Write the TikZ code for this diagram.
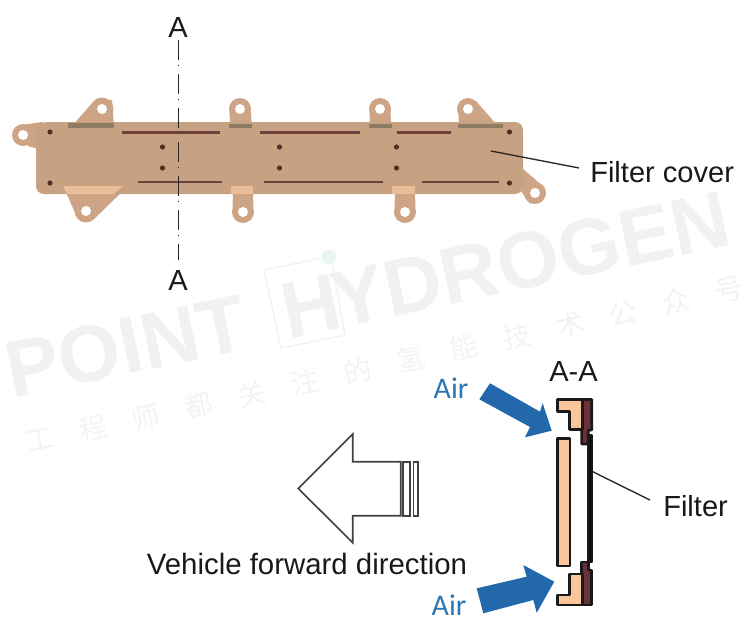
\documentclass[tikz,border=0pt]{standalone}
\usepackage{fontspec}
\setmainfont{Liberation Sans}
\newfontfamily\airfont{Carlito}
\newfontfamily\cjkfont{Noto Sans CJK SC}
\definecolor{bodyc}{HTML}{C6A283}
\definecolor{rimc}{HTML}{CDA586}
\definecolor{stripd}{HTML}{8F7A62}
\definecolor{stripl}{HTML}{E9BE98}
\definecolor{slotc}{HTML}{713F3B}
\definecolor{holec}{HTML}{4E3226}
\definecolor{peach}{HTML}{F9C69C}
\definecolor{wine}{HTML}{6B3238}
\definecolor{airblue}{HTML}{2468AC}
\definecolor{airtext}{HTML}{2E75B6}
\definecolor{wm}{HTML}{F1F1F1}
\definecolor{wmc}{HTML}{F3F3F3}
\definecolor{wmdot}{HTML}{E9F6F3}
\tikzset{
 txt/.style={font=\fontsize{21.8pt}{24pt}\selectfont,text=black!90,inner sep=0pt},
 airlabel/.style={font=\airfont\fontsize{22.5pt}{24pt}\selectfont,text=airtext,inner sep=0pt},
 wmark/.style={font=\bfseries\fontsize{60pt}{62pt}\selectfont,text=wm,inner sep=0pt,anchor=base west,rotate=12},
 wchar/.style={font=\cjkfont\fontsize{21pt}{22pt}\selectfont,text=wmc,inner sep=0pt,rotate=12},
 lug/.style={fill=rimc,draw=none},
 holew/.style={fill=white,draw=none},
 slotline/.style={draw=slotc,line width=2.1pt},
 pindot/.style={fill=holec,draw=none},
 sectionpart/.style={draw=black!90,line width=2pt,line join=round},
 outlinearrow/.style={draw=black!75,line width=1.2pt,fill=white,line join=miter},
 leader/.style={draw=black!85,line width=1pt},
 centre/.style={draw=black!85,line width=1pt,dash pattern=on 15pt off 3.75pt on 1.1pt off 5.65pt},
 airarrow/.style={fill=airblue,draw=none}
}
\begin{document}
\begin{tikzpicture}[x=0.75pt,y=-0.75pt]
\useasboundingbox (0,0) rectangle (747,640);
% watermark
\node[wmark] (wmP) at (12,399) {POINT};
\node[wmark] (wmH) at (288,340) {H};
\node[wmark] (wmY) at (338,329) {YDROGEN};
\draw[wm,line width=1pt] (264,270) -- (331,256) -- (345,335) -- (281,348) -- cycle;
\fill[white] (329,257) circle (9);
\fill[wmdot] (329,257) circle (7.5);
\foreach \c [count=\i from 0] in {工,程,师,都,关,注,的,氢,能,技,术,公,众,号}
  \node[wchar] (wc\i) at ({40+\i*53},{440-\i*11.55}) {\c};
% ears and lugs
\fill[lug] (72,126) -- (93,102) -- (112,100) -- (114,126) -- cycle;
\fill[lug] (102,109) circle (11.5);
\fill[lug] (230,126) -- (229.5,109) -- (250.5,109) -- (252,126) -- cycle;
\fill[lug] (240,109) circle (11);
\fill[lug] (370,126) -- (369.5,109) -- (390.5,109) -- (391,126) -- cycle;
\fill[lug] (380,109) circle (11);
\fill[lug] (459,126) -- (458,106) -- (476,101) -- (497,125) -- cycle;
\fill[lug] (468,109) circle (11);
\fill[lug] (65,190) -- (76,215) -- (94,219) -- (124,190) -- cycle;
\fill[lug] (86,211) circle (11.5);
\fill[lug] (233,190) -- (232.5,212) -- (253.5,212) -- (253,190) -- cycle;
\fill[lug] (243,212) circle (11);
\fill[lug] (395,190) -- (394.5,212) -- (415.5,212) -- (415,190) -- cycle;
\fill[lug] (405,212) circle (11);
\fill[lug] (510,175) -- (522,168) -- (545,188) -- (530,204) -- cycle;
\fill[lug] (535,193) circle (11);
\fill[lug] (22,125) -- (42,122) -- (42,150) -- (28,146) -- cycle;
\fill[lug] (23,135) circle (11);
% body
\fill[bodyc,rounded corners=6] (36,124) -- (42,122) -- (523,122) -- (523,194) -- (36,194) -- cycle;
% shaded strips
\fill[stripd] (68,122.5) rectangle (114,128);
\fill[stripd] (229,124) rectangle (252,128);
\fill[stripd] (369,124) rectangle (392,128);
\fill[stripd] (458,124) rectangle (503,128);
\fill[stripl] (63,186) -- (123,186) -- (114,194) -- (67,194) -- cycle;
\fill[stripl] (231,186) rectangle (253,194);
\fill[stripl] (392,186) rectangle (415,194);
% holes
\fill[holew] (23,135) circle (5);
\fill[holew] (102,109) circle (5);
\fill[holew] (240,109) circle (5);
\fill[holew] (380,109) circle (5);
\fill[holew] (468,109) circle (5);
\fill[holew] (86,211) circle (5);
\fill[holew] (243,212) circle (5);
\fill[holew] (405,212) circle (5);
\fill[holew] (535,193) circle (5);
% slots
\draw[slotline] (122,132.5) -- (220,132.5);
\draw[slotline] (260,132.5) -- (360,132.5);
\draw[slotline] (397,132.5) -- (451,132.5);
\draw[slotline] (138,182) -- (222,182);
\draw[slotline] (264,182) -- (383,182);
\draw[slotline] (422,182) -- (499,182);
% pins
\foreach \x/\y in {50/132,50/183,162.5/147,162.5/168,279.5/147,279.5/168,396.5/147,396.5/168,509.5/132,509.5/183}
  \fill[pindot] (\x,\y) circle (2.6);
% section line
\node[txt] (Atop) at (178,27) {A};
\node[txt] (Abot) at (178,280) {A};
\coordinate (ca) at (178.5,40);
\coordinate (cb) at (178.5,260);
\draw[centre] (ca) -- (cb);
% filter cover label
\node[txt,anchor=west] (cover) at (590,172) {Filter cover};
\coordinate (coverend) at (491,151);
\coordinate (coverstart) at (579,168);
\draw[leader] (coverstart) -- (coverend);
% direction arrow
\draw[outlinearrow] (298.3,488.5) -- (352.7,434) -- (352.7,461.7) -- (400.7,461.7) -- (400.7,515.7) -- (352.7,515.7) -- (352.7,542.7) -- cycle;
\draw[outlinearrow] (403,461.7) rectangle (410,515.7);
\draw[outlinearrow] (413.5,461.7) rectangle (417.7,515.7);
\node[txt,font=\fontsize{22.05pt}{24pt}\selectfont] (veh) at (307,564) {Vehicle forward direction};
% A-A section
\node[txt] (AA) at (573.5,371) {A-A};
\draw[sectionpart,fill=black] (588.8,435) rectangle (592,562);
\draw[sectionpart,fill=wine] (582.7,399.5) -- (591.7,399.5) -- (591.7,430) -- (588.3,430) -- (588.3,444) -- (581.7,444) -- (581.7,429.3) -- cycle;
\draw[sectionpart,fill=peach] (557.3,399.5) -- (582.7,399.5) -- (582.7,429.3) -- (569.3,429.3) -- (569.3,411.7) -- (557.3,411.7) -- cycle;
\draw[sectionpart,fill=peach] (557.3,438.3) rectangle (570,566);
\draw[sectionpart,fill=wine] (581.7,562) -- (588.3,562) -- (588.3,570) -- (591.7,570) -- (591.7,605) -- (582.7,605) -- (582.7,574) -- (581.7,574) -- cycle;
\draw[sectionpart,fill=peach] (569.3,574) -- (582.7,574) -- (582.7,605) -- (557.3,605) -- (557.3,595) -- (569.3,595) -- cycle;
% air arrows
\fill[airarrow] (490,383.3) -- (479.3,399.3) -- (530,427) -- (525,437.3) -- (551.7,430.7) -- (542.7,403.3) -- (540,411.7) -- cycle;
\fill[airarrow] (476.7,588.3) -- (483.3,613.3) -- (533.3,600) -- (536.7,612.7) -- (554.3,581.7) -- (523.3,565) -- (526.7,576.7) -- cycle;
\node[airlabel] (air1) at (451,388) {Air};
\node[airlabel] (air2) at (449,605) {Air};
% filter label
\node[txt,anchor=west] (filter) at (663,506) {Filter};
\coordinate (filterend) at (592.7,471.7);
\coordinate (filterstart) at (650,500);
\draw[leader] (filterstart) -- (filterend);
\end{tikzpicture}
\end{document}
